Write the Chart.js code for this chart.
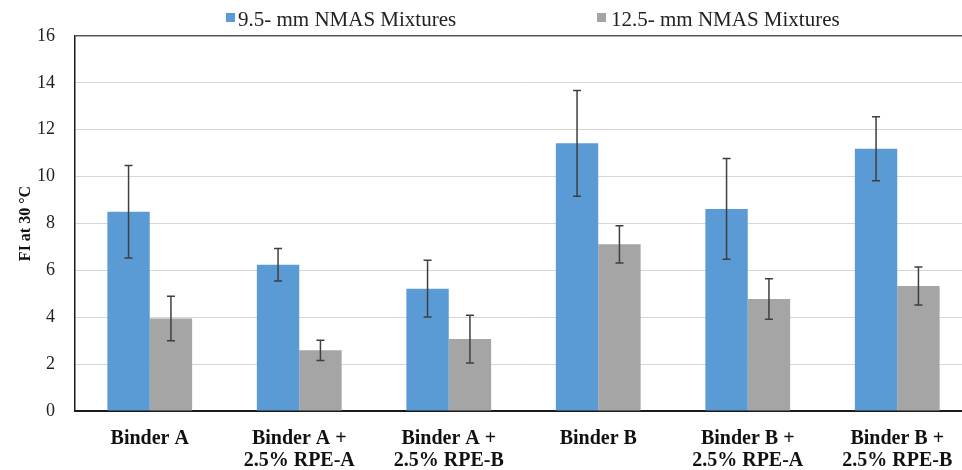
<!DOCTYPE html>
<html>
<head>
<meta charset="utf-8">
<script src="https://cdn.jsdelivr.net/npm/chart.js@4/dist/chart.umd.min.js"></script>
<style>
  html, body { margin: 0; padding: 0; background: #fff; overflow: hidden; width: 962px; height: 470px; }
  #wrap { position: relative; width: 980px; height: 470px; }
  .key { position: absolute; top: 9px; font: 21px/21px "Liberation Serif", serif; color: #222; white-space: nowrap; }
  .sw { position: absolute; top: 13px; width: 9px; height: 9px; }
</style>
</head>
<body>
<div id="wrap">
  <canvas id="chart" width="980" height="470"></canvas>
  <div class="sw" style="left:226px;background:#5b9bd5"></div>
  <div class="key" style="left:238px">9.5- mm NMAS Mixtures</div>
  <div class="sw" style="left:597px;background:#a5a5a5"></div>
  <div class="key" style="left:611px">12.5- mm NMAS Mixtures</div>
</div>
<script>
const categories = [
  'Binder A',
  ['Binder A +', '2.5% RPE-A'],
  ['Binder A +', '2.5% RPE-B'],
  'Binder B',
  ['Binder B +', '2.5% RPE-A'],
  ['Binder B +', '2.5% RPE-B']
];
const fi95 = [8.5, 6.24, 5.22, 11.42, 8.62, 11.19];
const err95 = [1.97, 0.69, 1.21, 2.26, 2.15, 1.37];
const fi125 = [3.95, 2.59, 3.07, 7.11, 4.78, 5.33];
const err125 = [0.95, 0.43, 1.02, 0.79, 0.86, 0.81];

const serif = '"Liberation Serif", "Times New Roman", serif';

// whiskers: mean +/- error, drawn on top of each bar
const errorBars = {
  id: 'errorBars',
  afterDatasetsDraw(chart) {
    const { ctx } = chart;
    const y = chart.scales.y;
    chart.data.datasets.forEach((ds, i) => {
      const meta = chart.getDatasetMeta(i);
      meta.data.forEach((bar, j) => {
        const v = ds.data[j], e = ds.errors[j];
        const top = y.getPixelForValue(v + e);
        const bot = y.getPixelForValue(v - e);
        ctx.save();
        ctx.strokeStyle = '#3f3f3f';
        ctx.lineWidth = 1.5;
        ctx.beginPath();
        ctx.moveTo(bar.x, top); ctx.lineTo(bar.x, bot);
        ctx.moveTo(bar.x - 4, top); ctx.lineTo(bar.x + 4, top);
        ctx.moveTo(bar.x - 4, bot); ctx.lineTo(bar.x + 4, bot);
        ctx.stroke();
        ctx.restore();
      });
    });
  }
};

new Chart(document.getElementById('chart').getContext('2d'), {
  type: 'bar',
  data: {
    labels: categories,
    datasets: [
      {
        label: '9.5- mm NMAS Mixtures',
        data: fi95,
        errors: err95,
        backgroundColor: '#5b9bd5',
        barPercentage: 1,
        categoryPercentage: 0.567
      },
      {
        label: '12.5- mm NMAS Mixtures',
        data: fi125,
        errors: err125,
        backgroundColor: '#a5a5a5',
        barPercentage: 1,
        categoryPercentage: 0.567
      }
    ]
  },
  options: {
    responsive: false,
    animation: false,
    layout: { padding: { top: 36, right: 8, left: 0, bottom: 0 } },
    plugins: {
      legend: { display: false },
      tooltip: { enabled: false }
    },
    scales: {
      x: {
        grid: { display: false, drawTicks: false },
        border: { color: '#1a1a1a', width: 2 },
        afterFit: (s) => { s.height = 59; },
        ticks: {
          padding: 17,
          maxRotation: 0,
          autoSkip: false,
          color: '#111',
          font: { family: serif, size: 20, weight: 'bold', lineHeight: 1.1 }
        }
      },
      y: {
        min: 0,
        max: 16,
        afterFit: (s) => { s.width = 75; },
        border: { color: '#1a1a1a', width: 1.5 },
        grid: {
          drawTicks: false,
          color: (c) => (c.tick && c.tick.value === 16 ? '#555' : '#d6d6d6'),
          lineWidth: (c) => (c.tick && c.tick.value === 16 ? 1.5 : 1)
        },
        ticks: {
          stepSize: 2,
          padding: 20,
          color: '#222',
          font: { family: serif, size: 18 }
        },
        title: {
          display: true,
          text: 'FI at 30 °C',
          color: '#111',
          padding: { top: 16, bottom: 0 },
          font: { family: serif, size: 16, weight: 'bold' }
        }
      }
    }
  },
  plugins: [errorBars]
});
</script>
</body>
</html>
